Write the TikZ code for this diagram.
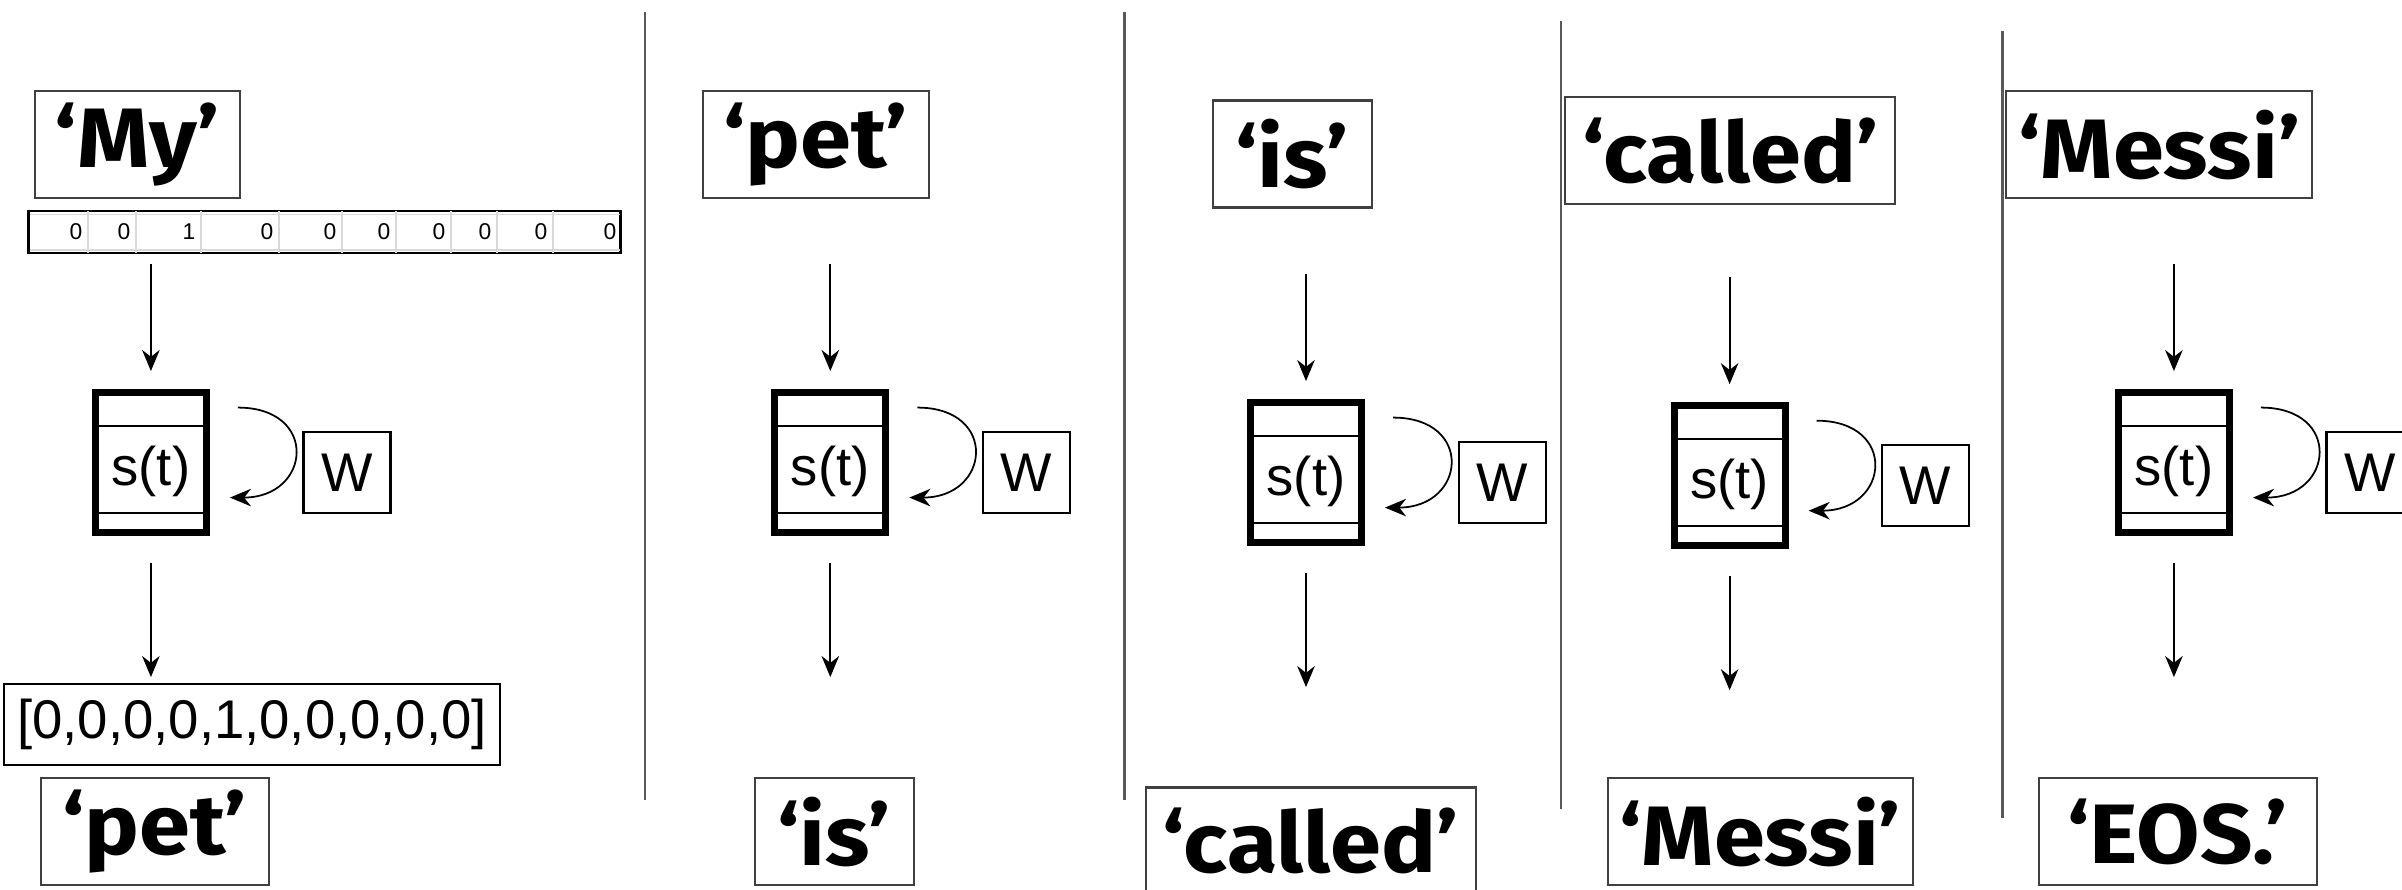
\documentclass[tikz,border=0pt]{standalone}
\usepackage{fontspec}
\setmainfont{Liberation Sans}
\newfontfamily\wordfont{Fira Sans}[FakeStretch=1.09]
\usepackage{tikz}
\usetikzlibrary{calc, positioning, arrows.meta}
\tikzstyle{word}    = [draw=black!75, line width=0.6pt, minimum height=1.07cm, inner sep=0pt, font=\wordfont\bfseries\fontsize{24}{28}\selectfont]
\tikzstyle{cell}    = [draw, line width=2pt, minimum width=1.11cm, minimum height=1.40cm, inner sep=0pt, text height=0.57cm, text depth=0.12cm, font=\fontsize{15.5}{18}\selectfont]
\tikzstyle{wbox}    = [draw, line width=0.6pt, minimum width=0.87cm, minimum height=0.81cm, inner sep=0pt, font=\fontsize{15.5}{18}\selectfont]
\tikzstyle{vecbox}  = [draw, line width=0.6pt, minimum height=0.81cm, inner sep=0pt, font=\fontsize{15.5}{18}\selectfont]
\tikzstyle{num}     = [inner sep=0pt, anchor=east, font=\fontsize{6.5}{8}\selectfont]
\tikzstyle{gridline}= [line width=0.5pt, black!15]
\tikzstyle{divider} = [line width=0.7pt, black!65]
\tikzstyle{arrow}   = [line width=0.5pt, -{Stealth[length=6pt,width=5pt]}]

\begin{document}
\begin{tikzpicture}
  \clip (0,0) rectangle (24.02,8.90);

  \node[word, minimum width=2.05cm] (in1) at (1.371,7.452) {‘My’};
  \node[word, minimum width=2.26cm] (in2) at (8.158,7.452) {‘pet’};
  \node[word, minimum width=1.59cm] (in3) at (12.922,7.360) {‘is’};
  \node[word, minimum width=3.30cm] (in4) at (17.304,7.391) {‘called’};
  \node[word, minimum width=3.06cm] (in5) at (21.594,7.452) {‘Messi’};

  \node[word, minimum width=2.28cm] (out1) at (1.547,0.581) {‘pet’};
  \node[word, minimum width=1.59cm] (out2) at (8.342,0.581) {‘is’};
  \node[word, minimum width=3.30cm] (out3) at (13.106,0.490) {‘called’};
  \node[word, minimum width=3.05cm] (out4) at (17.603,0.581) {‘Messi’};
  \node[word, minimum width=2.78cm] (out5) at (21.777,0.581) {‘EOS.’};

  \node[draw, line width=0.8pt, minimum width=5.92cm, minimum height=0.42cm, inner sep=0pt] (vec) at (3.248,6.579) {};
  \draw[gridline] (0.30,6.755) -- (6.20,6.755);
  \draw[gridline] (0.30,6.403) -- (6.20,6.403);
  \foreach \b/\v [count=\k] in {0.88/0, 1.36/0, 2.01/1, 2.79/0, 3.42/0, 3.96/0, 4.51/0, 4.97/0, 5.53/0, 6.22/0} {
    \ifnum\k<10 \draw[gridline] (\b,6.37) -- (\b,6.79); \fi
    \node[num] (v\k) at (\b-0.05,6.579) {\v};
  }

  \node[vecbox, minimum width=4.96cm] (vecout) at (2.52,1.654) {[0,0,0,0,1,0,0,0,0,0]};

  \foreach \i/\sx/\sy in {1/1.509/4.274, 2/8.303/4.274, 3/13.06/4.174, 4/17.296/4.143, 5/21.739/4.274} {
    \node[cell] (st\i) at (\sx,\sy) {s(t)};
    \draw[line width=0.5pt] ($(st\i.north west)+(0,-0.37)$) -- ($(st\i.north east)+(0,-0.37)$);
    \draw[line width=0.5pt] ($(st\i.south west)+(0,0.23)$) -- ($(st\i.south east)+(0,0.23)$);
    \node[wbox, right=0.925cm of st\i, yshift=-0.1cm] (w\i) {W};
    \coordinate (top\i) at ($(st\i.north)+(0,1.25)$);
    \coordinate (bot\i) at ($(st\i.south)+(0,-1.41)$);
    \coordinate (la\i) at ($(st\i.east)+(0.28,0.55)$);
    \coordinate (lb\i) at ($(st\i.east)+(0.20,-0.35)$);
    \draw[arrow, shorten >=0.18cm] (top\i) -- (st\i.north);
    \draw[arrow, shorten <=0.27cm] (st\i.south) -- (bot\i);
    \draw[arrow] (la\i) to[out=0, in=0, looseness=2.3] (lb\i);
  }

  \foreach \x/\ya/\yb in {6.450/8.777/0.903, 11.245/8.777/0.903, 15.611/8.686/0.811, 20.023/8.594/0.719}
    \draw[divider] (\x,\ya) -- (\x,\yb);
\end{tikzpicture}
\end{document}
